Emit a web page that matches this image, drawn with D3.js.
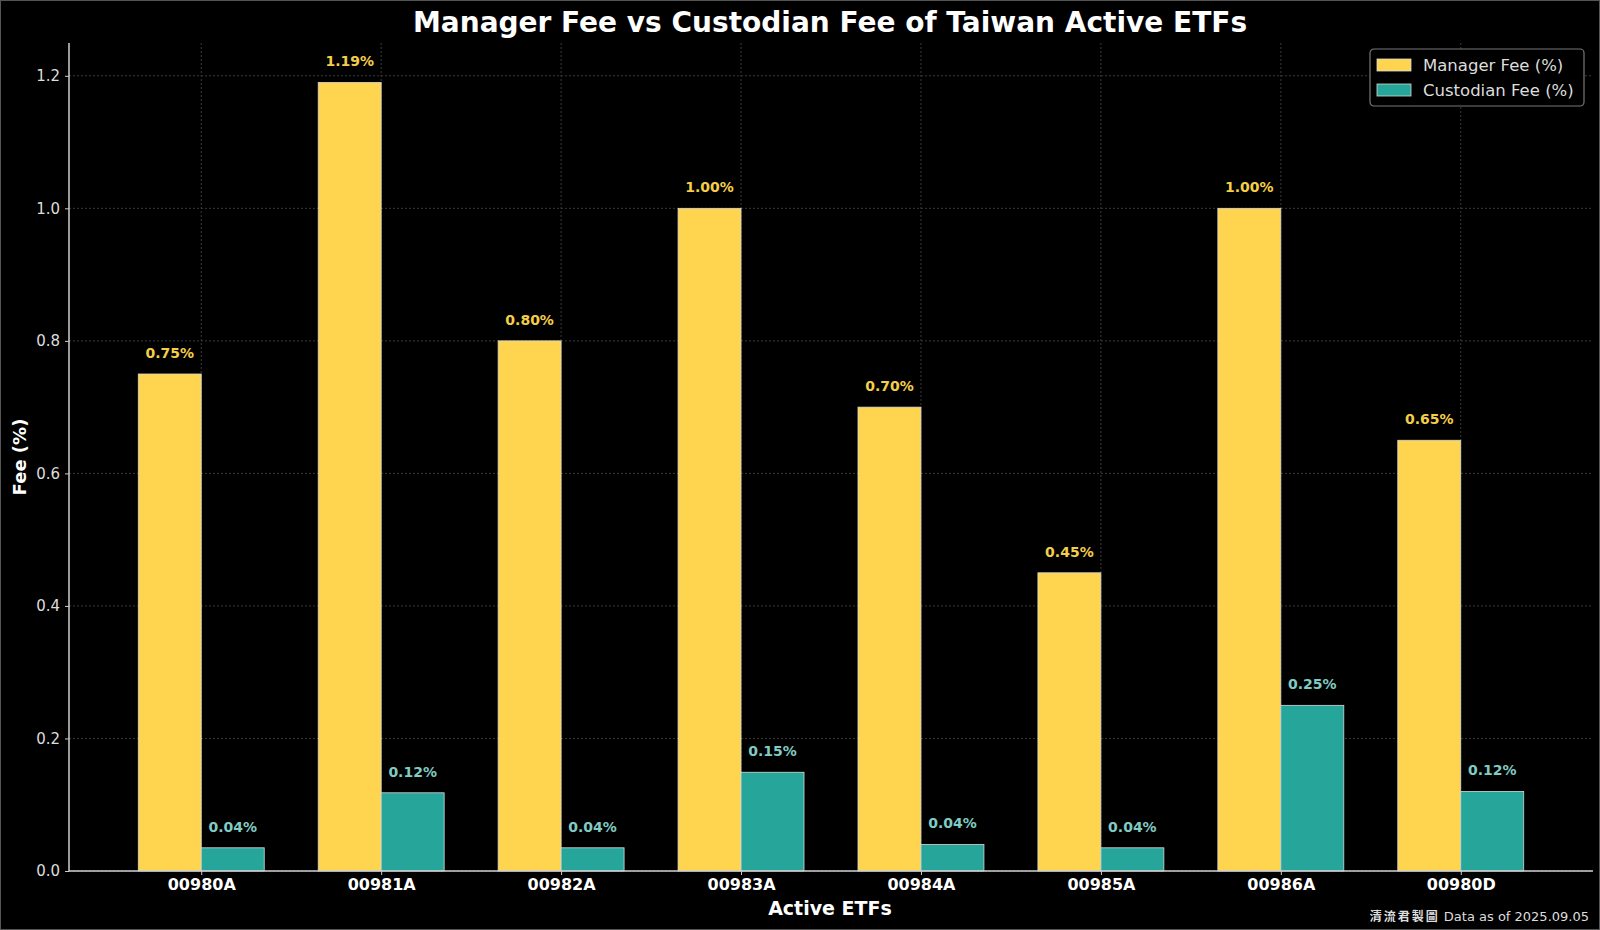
<!DOCTYPE html>
<html>
<head>
<meta charset="utf-8">
<script src="https://cdn.jsdelivr.net/npm/d3@7"></script>
<style>
  html, body { margin: 0; padding: 0; background: #000; }
  svg { display: block; }
</style>
</head>
<body>
<svg id="chart" width="1600" height="930"></svg>
<script>
const categories = ["00980A", "00981A", "00982A", "00983A", "00984A", "00985A", "00986A", "00980D"];
const managerFee = [0.75, 1.19, 0.80, 1.00, 0.70, 0.45, 1.00, 0.65];
const custodianFee = [0.035, 0.118, 0.035, 0.149, 0.04, 0.035, 0.25, 0.12];
const yTicks = [0.0, 0.2, 0.4, 0.6, 0.8, 1.0, 1.2];
const seriesNames = ["Manager Fee (%)", "Custodian Fee (%)"];

const W = 1600, H = 930;
const margin = { left: 69, right: 1593, top: 43, bottom: 871 };
const colors = ["#FFD54F", "#26A69A"];
const labelColors = ["#F4CE48", "#80CBC4"];
const barW = 0.35;

const svg = d3.select("#chart");
svg.append("rect").attr("width", W).attr("height", H).attr("fill", "#000");

const x = d3.scaleLinear().domain([-0.735, categories.length - 1 + 0.735]).range([margin.left, margin.right]);
const y = d3.scaleLinear().domain([0, 1.2495]).range([margin.bottom, margin.top]);

const g = svg.append("g");

// grid
g.append("g").selectAll("line.hg").data(yTicks).join("line")
  .attr("x1", margin.left).attr("x2", margin.right)
  .attr("y1", d => y(d)).attr("y2", d => y(d))
  .attr("stroke", "#3a3a3a").attr("stroke-width", 1).attr("stroke-dasharray", "2,2");
g.append("g").selectAll("line.vg").data(categories.map((c, i) => i)).join("line")
  .attr("x1", d => x(d)).attr("x2", d => x(d))
  .attr("y1", margin.top).attr("y2", margin.bottom)
  .attr("stroke", "#3a3a3a").attr("stroke-width", 1).attr("stroke-dasharray", "2,2");

// bars
const series = [managerFee, custodianFee];
series.forEach((vals, s) => {
  const off = s === 0 ? -barW : 0;
  g.append("g").selectAll("rect").data(vals).join("rect")
    .attr("x", (d, i) => x(i + off))
    .attr("y", d => y(d))
    .attr("width", (d, i) => x(i + off + barW) - x(i + off))
    .attr("height", d => y(0) - y(d))
    .attr("fill", colors[s])
    .attr("stroke", "#d8d8d8").attr("stroke-width", 0.8);
  g.append("g").selectAll("text").data(vals).join("text")
    .attr("x", (d, i) => x(i + off + barW / 2))
    .attr("y", d => y(d) - 16)
    .attr("text-anchor", "middle")
    .attr("font-family", "DejaVu Sans")
    .attr("font-weight", "bold")
    .attr("font-size", 14)
    .attr("fill", labelColors[s])
    .text(d => d.toFixed(2) + "%");
});

// axes spines
g.append("line").attr("x1", margin.left).attr("x2", margin.left).attr("y1", margin.top).attr("y2", margin.bottom)
  .attr("stroke", "#cfcfcf").attr("stroke-width", 1.5);
g.append("line").attr("x1", margin.left).attr("x2", margin.right).attr("y1", margin.bottom).attr("y2", margin.bottom)
  .attr("stroke", "#cfcfcf").attr("stroke-width", 1.5);

// y ticks
const yAxis = d3.axisLeft(y).tickValues(yTicks).tickFormat(d3.format(".1f")).tickSize(4).tickPadding(5);
const ya = g.append("g").attr("transform", `translate(${margin.left},0)`).call(yAxis);
ya.select(".domain").remove();
ya.selectAll("line").attr("stroke", "#cfcfcf");
ya.selectAll("text").attr("fill", "#dddddd").attr("font-family", "DejaVu Sans").attr("font-size", 15);

// x ticks
const xAxis = d3.axisBottom(x).tickValues(categories.map((c, i) => i)).tickFormat(i => categories[i]).tickSize(4).tickPadding(4);
const xa = g.append("g").attr("transform", `translate(0,${margin.bottom})`).call(xAxis);
xa.select(".domain").remove();
xa.selectAll("line").attr("stroke", "#cfcfcf");
xa.selectAll("text").attr("fill", "#ffffff").attr("font-family", "DejaVu Sans").attr("font-weight", "bold").attr("font-size", 16);

// title
svg.append("text").attr("x", 830).attr("y", 32).attr("text-anchor", "middle")
  .attr("font-family", "DejaVu Sans").attr("font-weight", "bold").attr("font-size", 28)
  .attr("fill", "#ffffff").text("Manager Fee vs Custodian Fee of Taiwan Active ETFs");

// axis labels
svg.append("text").attr("transform", "translate(26,457) rotate(-90)").attr("text-anchor", "middle")
  .attr("font-family", "DejaVu Sans").attr("font-weight", "bold").attr("font-size", 18)
  .attr("fill", "#ffffff").text("Fee (%)");
svg.append("text").attr("x", 830).attr("y", 915).attr("text-anchor", "middle")
  .attr("font-family", "DejaVu Sans").attr("font-weight", "bold").attr("font-size", 19)
  .attr("fill", "#ffffff").text("Active ETFs");

// legend
const lg = svg.append("g").attr("transform", "translate(1370,49)");
lg.append("rect").attr("width", 214).attr("height", 57).attr("rx", 4)
  .attr("fill", "#000").attr("stroke", "#777").attr("stroke-width", 1.2);
seriesNames.forEach((n, i) => {
  lg.append("rect").attr("x", 7).attr("y", 10 + i * 25).attr("width", 34).attr("height", 12)
    .attr("fill", colors[i]).attr("stroke", "#d8d8d8").attr("stroke-width", 0.8);
  lg.append("text").attr("x", 53).attr("y", 22 + i * 25)
    .attr("font-family", "DejaVu Sans").attr("font-size", 16.5).attr("fill", "#dddddd").text(n);
});

// watermark
const wm = svg.append("text").attr("x", 1589).attr("y", 921).attr("text-anchor", "end")
  .attr("font-family", "DejaVu Sans").attr("font-size", 13).attr("fill", "#dddddd");
wm.append("tspan").attr("font-family", "Noto Sans CJK TC").attr("font-weight", "bold")
  .attr("letter-spacing", 2).attr("font-size", 12).text("清流君製圖");
wm.append("tspan").text("  Data as of 2025.09.05");

// outer frame
svg.append("rect").attr("x", 0.5).attr("y", 0.5).attr("width", W - 1).attr("height", H - 1)
  .attr("fill", "none").attr("stroke", "#555").attr("stroke-width", 1);
</script>
</body>
</html>
